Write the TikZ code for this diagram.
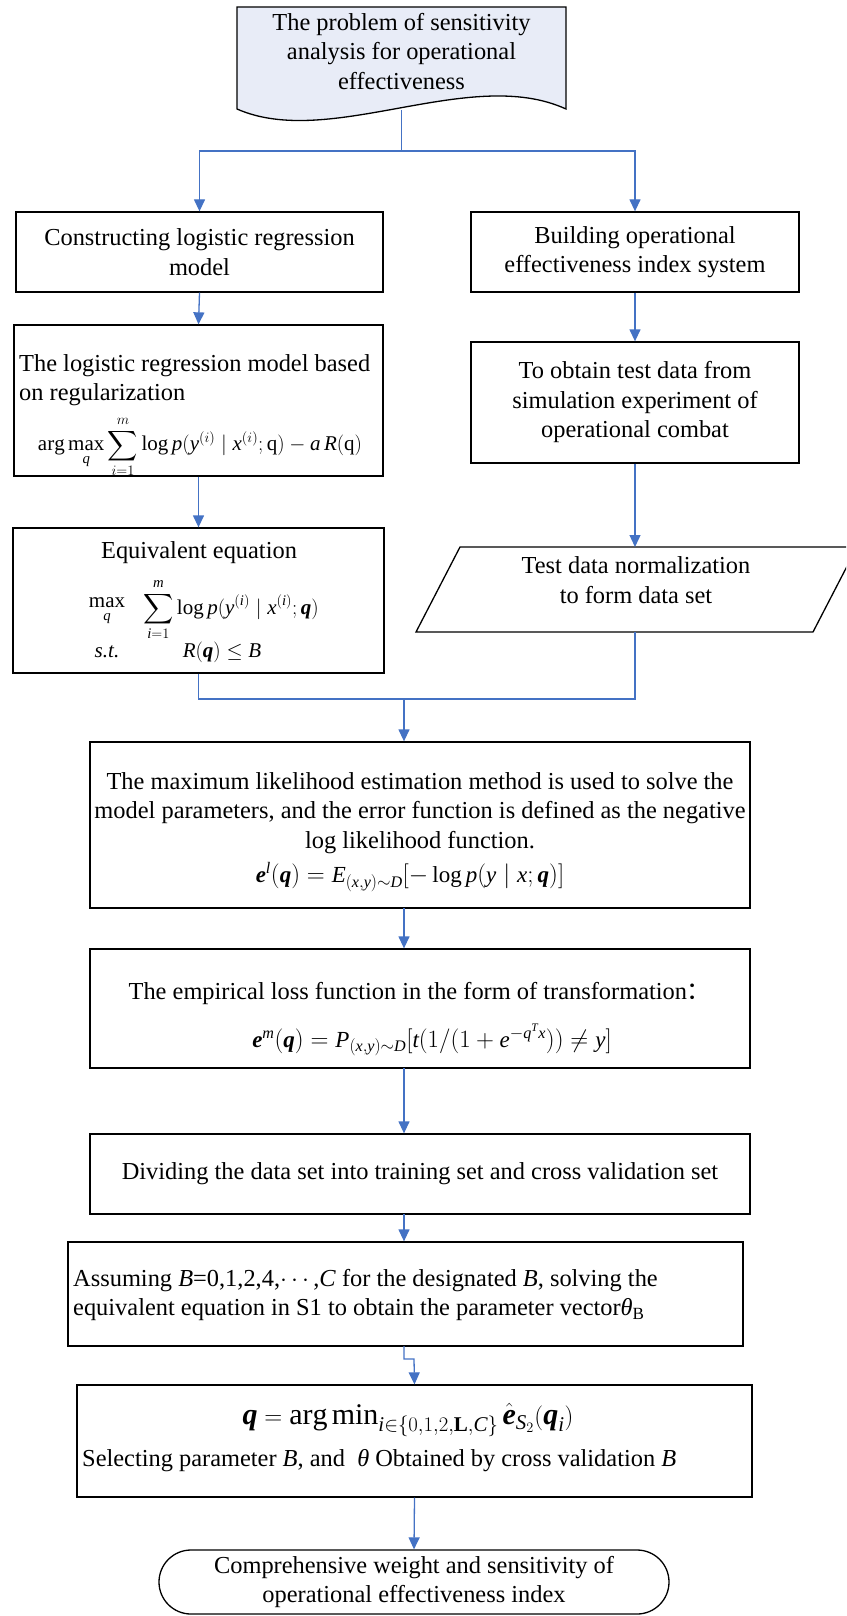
\documentclass[tikz,border=0pt]{standalone}
\usepackage{amsmath,amssymb}
\usepackage{fontspec}
\setmainfont{Liberation Serif}
\newfontfamily\cjk{Noto Sans CJK SC}
\DeclareMathAlphabet{\tmi}{TU}{\rmdefault}{m}{it}
\SetMathAlphabet{\tmi}{bold}{TU}{\rmdefault}{b}{it}
\newcommand{\thi}{\text{\itshape θ}}
\usetikzlibrary{arrows.meta}
\definecolor{lineblue}{RGB}{68,114,196}
\definecolor{docfill}{RGB}{232,236,247}
\begin{document}
\begin{tikzpicture}[x=1pt,y=-1pt,
  every node/.style={font=\fontsize{24.4}{29.5}\selectfont, inner sep=0pt},
  box/.style={draw=black, line width=1.3pt, rectangle},
  frm/.style={font=\fontsize{21}{25}\selectfont},
  conn/.style={draw=lineblue, line width=1.3pt},
  arr/.style={conn, -{Triangle[length=12pt,width=11pt]}}
]
\useasboundingbox (0,0) rectangle (846,1616);
\clip (0,0) rectangle (846,1616);

% top document shape
\draw[line width=1.3pt, fill=docfill] (237,7) -- (566,7) -- (566,109)
   .. controls (470,65) and (330,150) .. (237,109) -- cycle;
\node[align=center] (top) at (401.5,51.5) {The problem of sensitivity\\analysis for operational\\effectiveness};
\coordinate (topb) at (401.5,110);
\coordinate (bus) at (401.5,151);

% left column
\node[box, minimum width=367pt, minimum height=80pt, align=center] (L1) at (199.5,252)
  {Constructing logistic regression\\model};
\node[box, minimum width=369pt, minimum height=151pt] (L2) at (198.5,400.5) {};
\node[anchor=west, align=left] (L2t) at (19,380) {The logistic regression model based\\on regularization};
\node[frm] (L2f) at (200,447) {$\displaystyle\arg\max_{\tmi{q}}\sum_{i=1}^{m}\log \tmi{p}(\tmi{y}^{(i)}\mid \tmi{x}^{(i)};\mathrm{q})-\tmi{a}\,\tmi{R}(\mathrm{q})$};

\node[box, minimum width=371pt, minimum height=145pt] (L3) at (198.5,600.5) {};
\node (L3t) at (199,553) {Equivalent equation};
\node[frm] (L3m) at (107,612) {$\max\limits_{\tmi{q}}$};
\node[frm, anchor=west] (L3s) at (143,610) {$\displaystyle\sum_{\tmi{i}=1}^{\tmi{m}}\log \tmi{p}(\tmi{y}^{(\tmi{i})}\mid \tmi{x}^{(\tmi{i})};\boldsymbol{\tmi{q}})$};
\node[frm] (L3st) at (107,652) {\textit{s.t.}};
\node[frm] (L3r) at (222,652) {$\tmi{R}(\boldsymbol{\tmi{q}})\le \tmi{B}$};

% right column
\node[box, minimum width=328pt, minimum height=80pt, align=center] (R1) at (635,252)
  {Building operational\\effectiveness index system};
\node[box, minimum width=328pt, minimum height=121pt, align=center] (R2) at (635,402.5)
  {To obtain test data from\\simulation experiment of\\operational combat};
\draw[line width=1.3pt] (416,632) -- (460,547) -- (857,547) -- (813,632) -- cycle;
\node[align=center] (P) at (636,580) {Test data normalization\\to form data set};
\coordinate (Ptop) at (635,547);
\coordinate (Pbot) at (635,632);

% central column
\node[box, minimum width=660pt, minimum height=166pt] (B4) at (420,825) {};
\node[align=center] (B4t) at (420,813) {The maximum likelihood estimation method is used to solve the\\model parameters, and the error function is defined as the negative\\log likelihood function.};
\node[font=\fontsize{23}{27}\selectfont] (B4f) at (410,877) {$\boldsymbol{\tmi{e}}^{\tmi{l}}(\boldsymbol{\tmi{q}})=\tmi{E}_{(\tmi{x},\tmi{y})\sim \tmi{D}}[-\log \tmi{p}(\tmi{y}\mid \tmi{x};\boldsymbol{\tmi{q}})]$};

\node[box, minimum width=660pt, minimum height=119pt] (B5) at (420,1008.5) {};
\node (B5t) at (420,993) {The empirical loss function in the form of transformation{\cjk ：}};
\node[font=\fontsize{23}{27}\selectfont] (B5f) at (432,1040) {$\boldsymbol{\tmi{e}}^{\tmi{m}}(\boldsymbol{\tmi{q}})=\tmi{P}_{(\tmi{x},\tmi{y})\sim \tmi{D}}[\tmi{t}(1/(1+\tmi{e}^{-\tmi{q}^{\tmi{T}}\tmi{x}}))\neq \tmi{y}]$};

\node[box, minimum width=660pt, minimum height=80pt] (B6) at (420,1174) {Dividing the data set into training set and cross validation set};

\node[box, minimum width=675pt, minimum height=104pt] (B7) at (405.5,1294) {};
\node[anchor=west, align=left] (B7t) at (73,1295) {Assuming \textit{B}=0,1,2,4,$\cdots$,\textit{C} for the designated \textit{B}, solving the\\equivalent equation in S1 to obtain the parameter vector$\thi_{\mathrm{B}}$};

\node[box, minimum width=675pt, minimum height=112pt] (B8) at (414.5,1441) {};
\node[font=\fontsize{30}{34}\selectfont] (B8f) at (408,1420) {$\boldsymbol{\tmi{q}}=\arg\min_{\tmi{i}\in\{0,1,2,\mathbf{L},\tmi{C}\}}\hat{\boldsymbol{\tmi{e}}}_{\tmi{S}_2}(\boldsymbol{\tmi{q}}_{\tmi{i}})$};
\node[anchor=west] (B8t) at (82,1461) {Selecting parameter \textit{B}, and\ \ \textit{θ} Obtained by cross validation \textit{B}};

\node[draw=black, line width=1.3pt, rounded corners=32pt, minimum width=510pt, minimum height=64pt, align=center] (T) at (414,1582)
  {Comprehensive weight and sensitivity of\\operational effectiveness index};

% connectors
\draw[conn] (topb) -- (bus);
\draw[arr] (bus) -| (L1.north);
\draw[arr] (bus) -| (R1.north);
\draw[arr] (L1.south) -- (L2.north);
\draw[arr] (L2.south) -- (L3.north);
\draw[arr] (R1.south) -- (R2.north);
\draw[arr] (R2.south) -- (Ptop);
\coordinate (mL) at (198.5,699);
\coordinate (mR) at (635,699);
\coordinate (mC) at (404,699);
\draw[conn] (L3.south) -- (mL) -- (mR) -- (Pbot);
\draw[arr] (mC) -- (mC |- B4.north);
\coordinate (c45) at (404,908);
\coordinate (c56) at (404,1068);
\coordinate (c67) at (404,1214);
\draw[arr] (c45) -- (c45 |- B5.north);
\draw[arr] (c56) -- (c56 |- B6.north);
\draw[arr] (c67) -- (c67 |- B7.north);
\coordinate (c78) at (404,1346);
\coordinate (j1) at (404,1359);
\coordinate (j2) at (414,1359);
\draw[arr] (c78) -- (j1) -- (j2) -- (B8.north);
\draw[arr] (B8.south) -- (T.north);
\end{tikzpicture}
\end{document}
